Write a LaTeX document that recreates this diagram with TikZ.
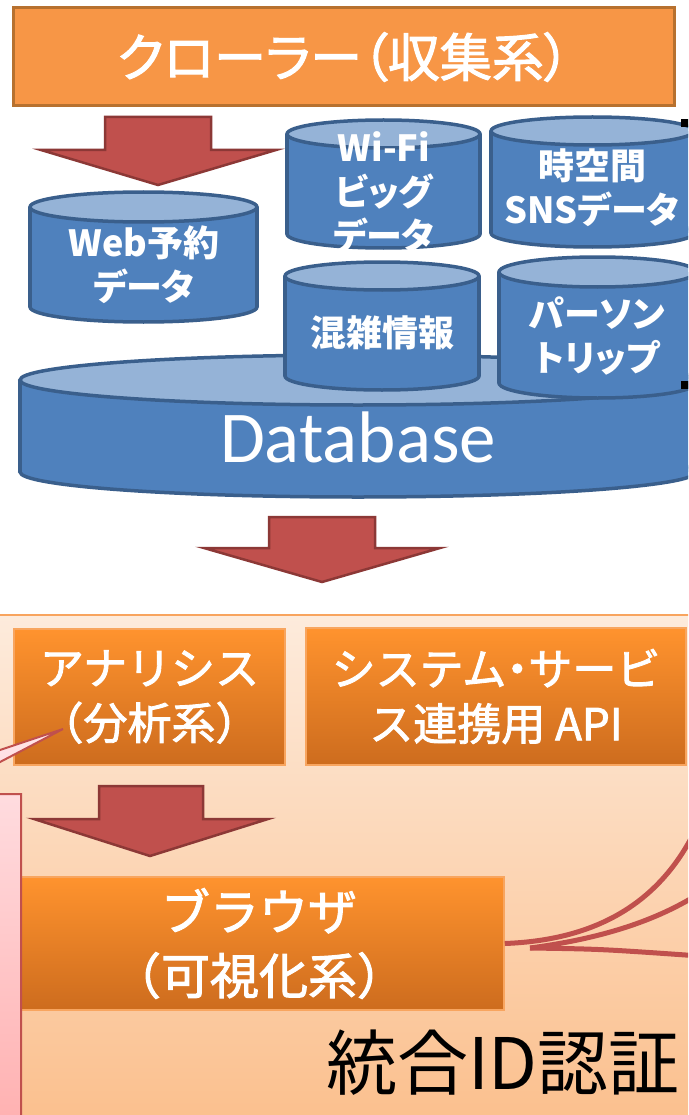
\documentclass[tikz,border=0pt]{standalone}
\usepackage{fontspec}
\newfontfamily\jpfont{Noto Sans CJK JP}
\newfontfamily\jpmfont[FakeBold=2]{Noto Sans CJK JP}
\newfontfamily\jppfont[RawFeature=+palt]{Noto Sans CJK JP}
\newfontfamily\jpmpfont[RawFeature=+palt, FakeBold=2]{Noto Sans CJK JP}
\newfontfamily\calfont{Carlito}
\definecolor{crawl}{HTML}{F79646}
\definecolor{crawlline}{HTML}{B7712F}
\definecolor{dbbody}{HTML}{4F81BD}
\definecolor{dbtop}{HTML}{95B3D7}
\definecolor{dbline}{HTML}{3A5F8C}
\definecolor{arrfill}{HTML}{C0504D}
\definecolor{arrline}{HTML}{8C3836}
\definecolor{panetop}{RGB}{253,235,220}
\definecolor{panebot}{RGB}{251,192,142}
\definecolor{paneline}{RGB}{248,164,94}
\definecolor{boxtop}{RGB}{255,147,46}
\definecolor{boxbot}{RGB}{205,108,30}
\definecolor{boxline}{RGB}{248,165,95}
\definecolor{pinktop}{RGB}{255,228,232}
\definecolor{pinkbot}{RGB}{255,176,176}
\definecolor{linkred}{HTML}{C0504D}

\tikzset{
  cylline/.style={draw=dbline, line width=3.5pt},
  bigarrow/.style={fill=arrfill, draw=arrline, line width=2.5pt, line join=miter},
  crawlbox/.style={fill=crawl, draw=crawlline, line width=3pt, inner sep=0pt,
    text=white, font=\jpmpfont\fontsize{52}{60}\selectfont},
  cyltext/.style={text=white, align=center, inner sep=0pt,
    font=\jppfont\bfseries\fontsize{36}{44}\selectfont},
  obox/.style={top color=boxtop, bottom color=boxbot, draw=boxline, line width=1.5pt,
    inner sep=0pt, text=white, align=center, font=\jpmfont\fontsize{44}{55}\selectfont},
  link/.style={draw=linkred, line width=5pt},
}

% database cylinder: left x, right x, top y, bottom y, end radius
\newcommand\dbcyl[5]{%
  \pgfmathsetmacro\cylcx{(#1+#2)/2}%
  \pgfmathsetmacro\cylrx{(#2-#1)/2}%
  \pgfmathsetmacro\cylyt{#3+#5}%
  \pgfmathsetmacro\cylyb{#4-#5}%
  \filldraw[fill=dbbody, cylline] (\cylcx,\cylyb) ellipse [x radius=\cylrx, y radius=#5];
  \fill[dbbody] (#1,\cylyt) rectangle (#2,\cylyb);
  \draw[cylline] (#1,\cylyt) -- (#1,\cylyb) (#2,\cylyt) -- (#2,\cylyb);
  \filldraw[fill=dbtop, cylline] (\cylcx,\cylyt) ellipse [x radius=\cylrx, y radius=#5];
}

\begin{document}
\begin{tikzpicture}[x=1pt, y=-1pt]
\useasboundingbox (0,0) rectangle (688,1115);
\fill[white] (0,0) rectangle (688,1115);
\clip (0,0) rectangle (688,1115);

% collection layer
\node[crawlbox, minimum width=661pt, minimum height=98pt] (crawler) at (343.5,57) {クローラー（収集系）};
\draw[bigarrow] (105,117) -- (211,117) -- (211,150) -- (276,150) -- (158,185) -- (41,150) -- (105,150) -- cycle;

% data stores
\dbcyl{30}{257}{192}{322}{15}
\dbcyl{287}{480}{120}{248}{14}
\dbcyl{491}{694}{117}{247}{14}
\dbcyl{20}{696}{355}{497}{25}
\dbcyl{285}{479}{262}{390}{14}
\dbcyl{499}{696}{257}{398}{15}

\node[cyltext] (web) at (144,265) {Web予約\\データ};
\node[cyltext] (wifi) at (384,192) {Wi-Fi\\ビッグ\\データ};
\node[cyltext] (sns) at (592,188) {時空間\\SNSデータ};
\node[cyltext] (crowd) at (382,333) {混雑情報};
\node[cyltext] (trip) at (597,336) {パーソン\\トリップ};
\node[text=white, inner sep=0pt, anchor=base, font=\calfont\fontsize{73}{80}\selectfont] (db) at (358,462) {Database};

\fill[black] (681,119) rectangle (689,127);
\fill[black] (681,381) rectangle (689,389);

\draw[bigarrow] (269,517) -- (375,517) -- (375,548) -- (440,548) -- (322,582) -- (204,548) -- (269,548) -- cycle;

% service layer
\shade[top color=panetop, bottom color=panebot] (-5,615) rectangle (693,1120);
\draw[paneline, line width=2pt] (-5,615) -- (693,615);

\node[obox, minimum width=271pt, minimum height=136pt] (ana) at (149.5,697) {アナリシス\\（分析系）};
\node[obox, minimum width=380pt, minimum height=137pt] (api) at (496,696.5) {システム{\jpmpfont ・}サービ\\ス連携用 API};

\draw[bigarrow] (99,786) -- (203,786) -- (203,819) -- (268,819) -- (150,856) -- (34,819) -- (99,819) -- cycle;

\node[obox, minimum width=490pt, minimum height=133pt, font=\jpmfont\fontsize{49}{64}\selectfont] (br) at (259,943.5) {ブラウザ\\（可視化系）};

% callout on the left
\coordinate (tip) at (63,729);
\shadedraw[top color=pinktop, bottom color=pinkbot, draw=linkred, line width=2pt]
  (-300,794) -- (-132,794) -- (tip) -- (-61,794) -- (21,794) -- (21,1130) -- (-300,1130) -- cycle;

% links leaving the browser
\coordinate (fork) at (530,948);
\coordinate (endA) at (700,820);
\coordinate (endB) at (700,893);
\coordinate (endC) at (700,956);
\draw[link] (br.east) .. controls (600,940) and (665,900) .. (endA);
\draw[link] (fork) .. controls (590,940) and (650,925) .. (endB);
\draw[link] (fork) .. controls (600,949) .. (endC);

\node[text=black, inner sep=0pt, font=\jpfont\fontsize{71}{80}\selectfont] (auth) at (503,1063) {統合ID認証};
\end{tikzpicture}
\end{document}
